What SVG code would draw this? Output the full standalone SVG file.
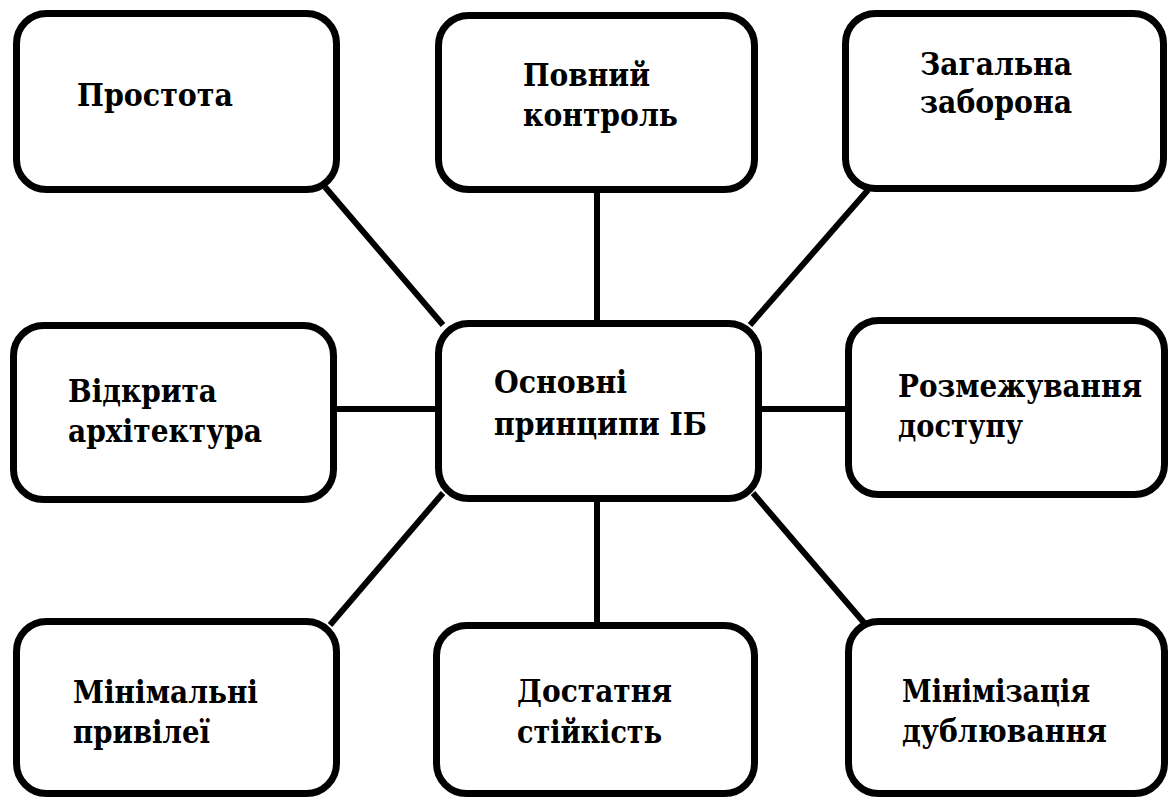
<svg xmlns="http://www.w3.org/2000/svg" width="1169" height="799" viewBox="0 0 1169 799">
<style>
.box{fill:#fff;stroke:#000;stroke-width:7}
.ln{stroke:#000;stroke-width:6;fill:none}
text{font-family:'DejaVu Serif','Liberation Serif',serif;font-weight:bold;font-size:31px;fill:#000}
</style>
<rect width="1169" height="799" fill="#fff"/>
<g id="connectors">
<line class="ln" x1="325" y1="187" x2="443" y2="325"/>
<line class="ln" x1="868" y1="190" x2="750" y2="325"/>
<line class="ln" x1="443" y1="493" x2="330" y2="625"/>
<line class="ln" x1="753" y1="493" x2="866" y2="625"/>
<line class="ln" x1="597" y1="190" x2="597" y2="324"/>
<line class="ln" x1="597" y1="498" x2="597" y2="626"/>
<line class="ln" x1="334" y1="409" x2="439" y2="409"/>
<line class="ln" x1="759" y1="409" x2="849" y2="409"/>
</g>
<g id="n1"><rect class="box" x="16.5" y="13.5" width="320" height="176" rx="30"/>
<text x="77" y="106" textLength="156" lengthAdjust="spacingAndGlyphs">Простота</text></g>
<g id="n2"><rect class="box" x="438.5" y="15.5" width="316" height="174" rx="30"/>
<text x="523" y="86" textLength="127" lengthAdjust="spacingAndGlyphs">Повний</text>
<text x="523" y="126" textLength="155" lengthAdjust="spacingAndGlyphs">контроль</text></g>
<g id="n3"><rect class="box" x="845.5" y="13.5" width="318" height="175" rx="30"/>
<text x="920" y="75" textLength="152" lengthAdjust="spacingAndGlyphs">Загальна</text>
<text x="920" y="113" textLength="152" lengthAdjust="spacingAndGlyphs">заборона</text></g>
<g id="n4"><rect class="box" x="13.5" y="325.5" width="320" height="174" rx="30"/>
<text x="68" y="402" textLength="149" lengthAdjust="spacingAndGlyphs">Відкрита</text>
<text x="68" y="442" textLength="194" lengthAdjust="spacingAndGlyphs">архітектура</text></g>
<g id="n5"><rect class="box" x="438.5" y="323.5" width="320" height="175" rx="30"/>
<text x="494" y="393" textLength="133" lengthAdjust="spacingAndGlyphs">Основні</text>
<text x="494" y="435" textLength="213" lengthAdjust="spacingAndGlyphs">принципи ІБ</text></g>
<g id="n6"><rect class="box" x="848.5" y="320.5" width="316" height="174" rx="30"/>
<text x="898" y="397" textLength="244" lengthAdjust="spacingAndGlyphs">Розмежування</text>
<text x="898" y="437" textLength="125" lengthAdjust="spacingAndGlyphs">доступу</text></g>
<g id="n7"><rect class="box" x="16.5" y="621.5" width="320" height="172" rx="30"/>
<text x="73" y="703" textLength="185" lengthAdjust="spacingAndGlyphs">Мінімальні</text>
<text x="73" y="743" textLength="137" lengthAdjust="spacingAndGlyphs">привілеї</text></g>
<g id="n8"><rect class="box" x="436.5" y="625.5" width="318" height="168" rx="30"/>
<text x="517" y="702" textLength="155" lengthAdjust="spacingAndGlyphs">Достатня</text>
<text x="517" y="743" textLength="145" lengthAdjust="spacingAndGlyphs">стійкість</text></g>
<g id="n9"><rect class="box" x="848.5" y="621.5" width="316" height="172" rx="30"/>
<text x="902" y="702" textLength="188" lengthAdjust="spacingAndGlyphs">Мінімізація</text>
<text x="902" y="742" textLength="205" lengthAdjust="spacingAndGlyphs">дублювання</text></g>
</svg>
